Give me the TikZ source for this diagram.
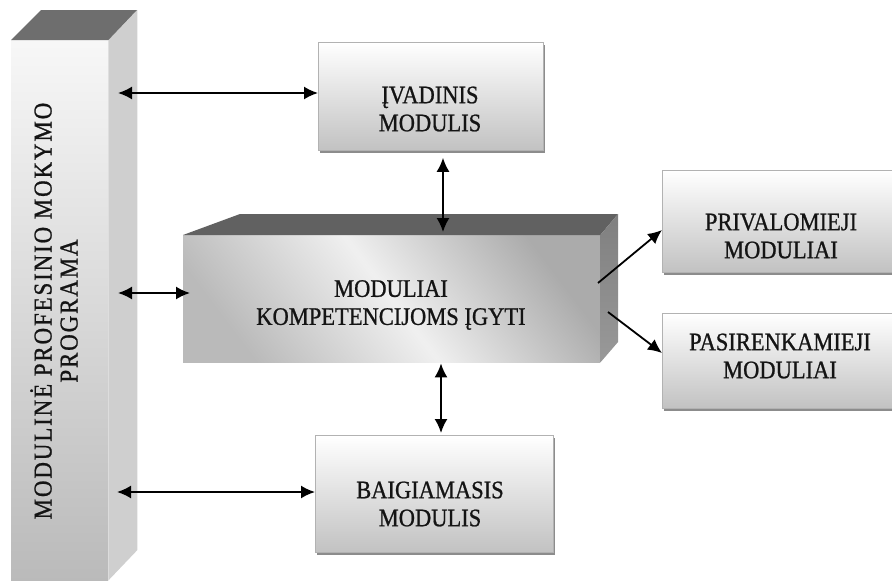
\documentclass[tikz,border=0pt]{standalone}
\usepackage{fontspec}
\usepackage{graphicx}
\setmainfont{Liberation Serif}[FakeBold=0.9]
\usetikzlibrary{arrows.meta,shadows,calc}
\newcommand{\tallt}[1]{\scalebox{1}[1.12]{#1}}
\begin{document}
\begin{tikzpicture}[x=1pt,y=-1pt,
  lbl/.style={font=\fontsize{22.5}{28}\selectfont, align=center, text=black!92},
  coltext/.style={font=\fontsize{23}{26}\selectfont\addfontfeature{LetterSpace=8}, align=center, text=black!92},
  mbox/.style={draw=black!30, line width=0.8pt, top color=white, bottom color=black!24,
     inner sep=0pt, anchor=north west,
     drop shadow={shadow xshift=2pt, shadow yshift=-3pt, fill=black!45, opacity=1}},
  tip/.style={Latex[length=14pt,width=13pt]},
  conn/.style={line width=1.8pt, black, {Latex[length=14pt,width=13pt]}-{Latex[length=14pt,width=13pt]}},
  oneway/.style={line width=1.8pt, black, -{Latex[length=14pt,width=13pt]}}]
\useasboundingbox (0,0) rectangle (892,581);
\clip (0,0) rectangle (892,581);
\fill[white] (0,0) rectangle (892,581);

% ---- left column (3D) ----
\node[minimum width=97pt, minimum height=540pt, anchor=north west, inner sep=0pt,
      top color=black!3, bottom color=black!27] (colf) at (11,40) {};
\fill[black!19] (colf.north east) -- ++(29,-30) -- ++(0,540) -- (colf.south east) -- cycle;
\fill[black!57] (colf.north west) -- ++(30,-30) -- ++(96,0) -- (colf.north east) -- cycle;
\node[coltext, rotate=90] (coltxt) at (54,311) {\tallt{MODULINĖ PROFESINIO MOKYMO}\\\tallt{PROGRAMA}};

% ---- central box (3D) ----
\node[minimum width=417pt, minimum height=127pt, anchor=north west, inner sep=0pt,
      left color=black!27, right color=black!33, middle color=black!6, shading angle=127] (mid) at (183,235) {};
\fill[black!62] (mid.north west) -- (240,214) -- (618,214) -- (mid.north east) -- cycle;
\shade[top color=black!50, bottom color=black!40] (mid.north east) -- (618,214) -- (618,342) -- (mid.south east) -- cycle;
\node[lbl] (midtxt) at (391,305) {\tallt{MODULIAI}\\\tallt{KOMPETENCIJOMS ĮGYTI}};

% ---- small boxes ----
\node[mbox, minimum width=225pt, minimum height=108pt] (iv) at (318,42) {};
\node[lbl] (ivt) at (430,109) {\tallt{ĮVADINIS}\\\tallt{MODULIS}};
\node[mbox, minimum width=238pt, minimum height=117pt] (bg) at (315,435) {};
\node[lbl] (bgt) at (430,504) {\tallt{BAIGIAMASIS}\\\tallt{MODULIS}};
\node[mbox, minimum width=240pt, minimum height=102pt] (pr) at (662,170) {};
\node[lbl] (prt) at (781,236) {\tallt{PRIVALOMIEJI}\\\tallt{MODULIAI}};
\node[mbox, minimum width=240pt, minimum height=95pt] (ps) at (662,313) {};
\node[lbl] (pst) at (780,356) {\tallt{PASIRENKAMIEJI}\\\tallt{MODULIAI}};

% ---- connectors ----
\coordinate (a1) at (118,93);
\coordinate (a2) at (118,293);
\coordinate (a3) at (117,492);
\coordinate (v1) at (443,0);
\coordinate (v2) at (441,0);
\coordinate (d1) at (598,283);
\coordinate (d2) at (608,312);
\draw[conn] (a1) -- (iv.west |- a1);
\draw[conn] (a2) -- ($(mid.west |- a2)+(7,0)$);
\draw[conn] (a3) -- (bg.west |- a3);
\draw[conn] ($(iv.south -| v1)+(0,7)$) -- ($(mid.north -| v1)+(0,-3)$);
\draw[conn] ($(mid.south -| v2)+(0,1)$) -- ($(bg.north -| v2)+(0,-2)$);
\draw[oneway] (d1) -- ($(pr.north west)+(0,60)$);
\draw[oneway] (d2) -- ($(ps.north west)+(0,40)$);
\end{tikzpicture}
\end{document}
